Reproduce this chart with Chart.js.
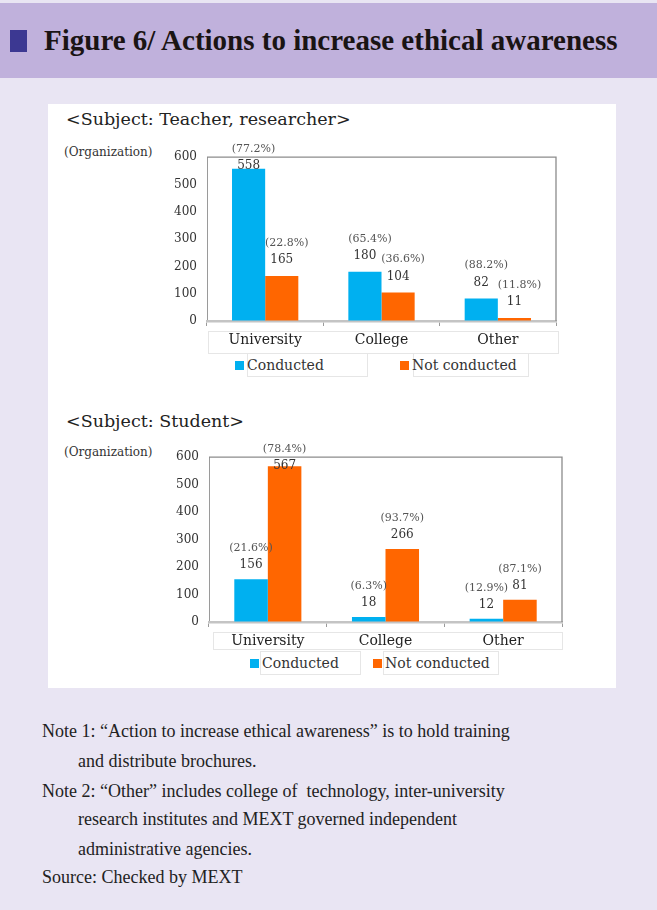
<!DOCTYPE html>
<html>
<head>
<meta charset="utf-8">
<script src="https://cdn.jsdelivr.net/npm/chart.js@4.4.1/dist/chart.umd.min.js"></script>
<style>
  html, body { margin: 0; padding: 0; }
  body { width: 657px; height: 910px; background: #e9e5f3; position: relative; overflow: hidden; font-family: "Liberation Serif", serif; color: #222; }
  .abs { position: absolute; }
  #header { left: 0; top: 3px; width: 657px; height: 75px; background: #c0b1dc; }
  #sq { left: 10px; top: 30px; width: 17px; height: 22px; background: #3c3892; }
  #title { left: 44px; top: 24px; font-weight: bold; font-size: 29px; white-space: nowrap; color: #1a1414; }
  #panel { left: 48px; top: 104px; width: 568px; height: 584px; background: #fff; }
  .sub { left: 66px; font-family: "DejaVu Serif", serif; font-size: 17.5px; white-space: nowrap; color: #222; }
  .org { left: 64px; font-family: "DejaVu Serif", serif; font-size: 12px; white-space: nowrap; color: #333; }
  .cell { border: 1px solid #e6e6e6; box-sizing: border-box; }
  .leg { font-family: "DejaVu Serif", serif; font-size: 14px; white-space: nowrap; color: #333; display: flex; align-items: center; }
  .leg i { display: inline-block; width: 9px; height: 9px; margin-right: 3px; }
  .note { left: 42px; font-size: 18px; white-space: nowrap; color: #222; }
</style>
</head>
<body>
<div id="header" class="abs"></div>
<div id="sq" class="abs"></div>
<div id="title" class="abs">Figure 6/ Actions to increase ethical awareness</div>
<div id="panel" class="abs"></div>

<div class="abs sub" style="top:109px">&lt;Subject: Teacher, researcher&gt;</div>
<div class="abs org" style="top:145px">(Organization)</div>
<div class="abs cell" style="left:208px;top:331px;width:351px;height:23px"></div>
<div class="abs cell" style="left:247px;top:353px;width:121px;height:24px"></div>
<div class="abs cell" style="left:413px;top:353px;width:116px;height:24px"></div>
<div id="legTop"></div>
<canvas id="c1" class="abs" style="left:150px;top:140px"></canvas>

<div class="abs sub" style="top:411px">&lt;Subject: Student&gt;</div>
<div class="abs org" style="top:445px">(Organization)</div>
<div class="abs cell" style="left:213px;top:632px;width:350px;height:18px"></div>
<div class="abs cell" style="left:260px;top:651px;width:101px;height:24px"></div>
<div class="abs cell" style="left:383px;top:651px;width:116px;height:24px"></div>
<div id="legBot"></div>
<canvas id="c2" class="abs" style="left:150px;top:440px"></canvas>

<div class="abs note" style="top:721px">Note 1: “Action to increase ethical awareness” is to hold training</div>
<div class="abs note" style="top:751px;left:78px">and distribute brochures.</div>
<div class="abs note" style="top:781px">Note 2: “Other” includes college of&nbsp; technology, inter-university</div>
<div class="abs note" style="top:809px;left:78px">research institutes and MEXT governed independent</div>
<div class="abs note" style="top:839px;left:78px">administrative agencies.</div>
<div class="abs note" style="top:867px">Source: Checked by MEXT</div>

<script>
// ---- data ----
const categories = ['University', 'College', 'Other'];
const seriesNames = ['Conducted', 'Not conducted'];
const teacherConducted = [558, 180, 82];
const teacherNotConducted = [165, 104, 11];
const teacherConductedPct = ['77.2%', '65.4%', '88.2%'];
const teacherNotConductedPct = ['22.8%', '36.6%', '11.8%'];
const studentConducted = [156, 18, 12];
const studentNotConducted = [567, 266, 81];
const studentConductedPct = ['21.6%', '6.3%', '12.9%'];
const studentNotConductedPct = ['78.4%', '93.7%', '87.1%'];
const yTicks = [0, 100, 200, 300, 400, 500, 600];

const colors = ['#00b0f0', '#ff6600'];

function makeLegend(id, left, top) {
  const el = document.getElementById(id);
  seriesNames.forEach((n, i) => {
    const d = document.createElement('div');
    d.className = 'abs leg';
    d.style.left = (left[i]) + 'px';
    d.style.top = top + 'px';
    d.style.height = '18px';
    d.innerHTML = '<i style="background:' + colors[i] + '"></i>' + n;
    el.appendChild(d);
  });
}
makeLegend('legTop', [235, 400], 356);
makeLegend('legBot', [250, 373], 654);

const framePlugin = {
  id: 'frame',
  afterDraw(chart) {
    const a = chart.chartArea, ctx = chart.ctx;
    ctx.save();
    ctx.strokeStyle = '#8c8c8c';
    ctx.lineWidth = 1.3;
    ctx.beginPath();
    ctx.moveTo(a.left, a.top);
    ctx.lineTo(a.right, a.top);
    ctx.lineTo(a.right, a.bottom);
    ctx.stroke();
    ctx.restore();
  }
};

const labelPlugin = {
  id: 'vlabels',
  afterDatasetsDraw(chart, args, opts) {
    const ctx = chart.ctx, a = chart.chartArea;
    ctx.save();
    ctx.textAlign = 'center';
    ctx.textBaseline = 'middle';
    chart.data.datasets.forEach((ds, di) => {
      const meta = chart.getDatasetMeta(di);
      meta.data.forEach((bar, i) => {
        let ny = Math.max(bar.y - opts.numGap, a.top + 9);
        let py = ny - 17;
        ctx.fillStyle = '#333';
        ctx.font = '12px "DejaVu Serif"';
        ctx.fillText(String(ds.data[i]), bar.x, ny);
        ctx.fillStyle = '#555';
        ctx.font = '11px "DejaVu Serif"';
        ctx.fillText('(' + ds.pct[i] + ')', bar.x + opts.pctDx, py);
      });
    });
    ctx.restore();
  }
};

function makeChart(id, w, h, yW, padT, padR, xH, d1, d2, p1, p2, numGap, pctDx) {
  const cv = document.getElementById(id);
  cv.width = w; cv.height = h;
  cv.style.width = w + 'px'; cv.style.height = h + 'px';
  return new Chart(cv, {
    type: 'bar',
    data: {
      labels: categories,
      datasets: [
        { label: seriesNames[0], data: d1, pct: p1, backgroundColor: colors[0], categoryPercentage: 0.57, barPercentage: 1.0 },
        { label: seriesNames[1], data: d2, pct: p2, backgroundColor: colors[1], categoryPercentage: 0.57, barPercentage: 1.0 }
      ]
    },
    options: {
      responsive: false,
      animation: false,
      devicePixelRatio: 1,
      layout: { padding: { top: padT, right: padR, left: 0, bottom: 0 } },
      plugins: {
        legend: { display: false },
        tooltip: { enabled: false },
        vlabels: { numGap: numGap, pctDx: pctDx }
      },
      scales: {
        y: {
          min: 0, max: 600,
          afterBuildTicks(s) { s.ticks = yTicks.map(v => ({ value: v })); },
          afterFit(s) { s.width = yW; },
          grid: { display: true, drawOnChartArea: false, drawTicks: false },
          border: { color: '#9a9a9a', width: 1 },
          ticks: { padding: 10, color: '#333', font: { family: 'DejaVu Serif', size: 12 } }
        },
        x: {
          afterFit(s) { s.height = xH; },
          grid: { display: true, drawOnChartArea: false, drawTicks: true, tickLength: 5, color: '#9a9a9a' },
          border: { color: '#c4c4c4', width: 2.5 },
          ticks: { padding: 6, color: '#222', font: { family: 'DejaVu Serif', size: 14 } }
        }
      }
    },
    plugins: [framePlugin, labelPlugin]
  });
}

makeChart('c1', 420, 245, 57, 13, 14, 64, teacherConducted, teacherNotConducted, teacherConductedPct, teacherNotConductedPct, 16, 5);
makeChart('c2', 425, 245, 59, 15, 13, 63, studentConducted, studentNotConducted, studentConductedPct, studentNotConductedPct, 14, 0);
</script>
</body>
</html>
